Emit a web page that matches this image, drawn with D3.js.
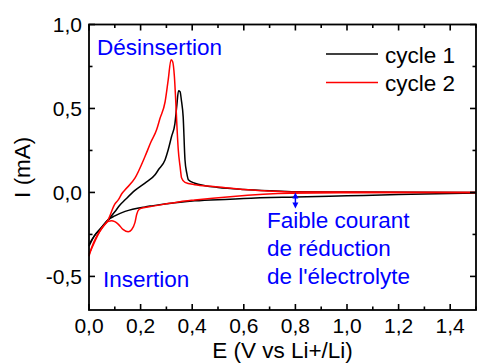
<!DOCTYPE html>
<html><head><meta charset="utf-8">
<script src="https://cdn.jsdelivr.net/npm/d3@7"></script>
<style>body{margin:0;background:#fff}svg{display:block}text{font-family:"Liberation Sans",Arial,sans-serif}</style>
</head><body>
<svg id="c" width="478" height="363"></svg>
<script>
// ---- data (E in V vs Li+/Li, I in mA) ----
const cycle1CathE = [0.0, 0.02, 0.045, 0.074, 0.1, 0.14, 0.217, 0.243, 0.3, 0.353, 0.41, 0.547, 0.6, 0.8, 1.0, 1.2, 1.5];
const cycle1CathI = [-0.32, -0.26, -0.215, -0.163, -0.14, -0.113, -0.086, -0.08, -0.068, -0.058, -0.05, -0.04, -0.036, -0.027, -0.02, -0.013, -0.004];
const cycle1AnodE = [0.0, 0.02, 0.045, 0.074, 0.1, 0.12, 0.14, 0.178, 0.217, 0.256, 0.269, 0.295, 0.307, 0.32, 0.333, 0.34, 0.347, 0.353, 0.358, 0.365, 0.372, 0.379, 0.385, 0.41, 0.45, 0.5, 0.6, 0.7, 0.8, 1.0, 1.5];
const cycle1AnodI = [-0.31, -0.26, -0.215, -0.163, -0.115, -0.075, -0.044, 0.012, 0.056, 0.105, 0.135, 0.195, 0.254, 0.333, 0.41, 0.512, 0.605, 0.6, 0.55, 0.45, 0.195, 0.115, 0.076, 0.055, 0.04, 0.03, 0.018, 0.01, 0.004, 0.002, 0.0];
const cycle2CathE = [0.0, 0.01, 0.03, 0.049, 0.062, 0.075, 0.088, 0.1, 0.114, 0.133, 0.152, 0.165, 0.178, 0.185, 0.195, 0.215, 0.243, 0.3, 0.353, 0.41, 0.547, 0.78, 1.0, 1.5];
const cycle2CathI = [-0.38, -0.33, -0.26, -0.215, -0.19, -0.172, -0.168, -0.174, -0.19, -0.222, -0.234, -0.222, -0.18, -0.13, -0.1, -0.09, -0.083, -0.068, -0.055, -0.045, -0.025, -0.005, -0.002, 0.0];
const cycle2AnodE = [0.0, 0.02, 0.045, 0.074, 0.1, 0.114, 0.127, 0.14, 0.178, 0.217, 0.24, 0.262, 0.275, 0.295, 0.307, 0.318, 0.324, 0.331, 0.336, 0.341, 0.346, 0.353, 0.359, 0.372, 0.41, 0.482, 0.6, 0.7, 0.78, 1.0, 1.5];
const cycle2AnodI = [-0.37, -0.3, -0.225, -0.163, -0.07, -0.043, -0.008, 0.016, 0.085, 0.214, 0.3, 0.373, 0.44, 0.54, 0.67, 0.79, 0.78, 0.69, 0.55, 0.39, 0.254, 0.155, 0.086, 0.06, 0.046, 0.036, 0.018, 0.009, 0.003, 0.002, 0.0];

const seriesNames = ["cycle 1", "cycle 2"];
const seriesColors = ["#000000", "#ff0000"];

const xMajorTicks = [0.0, 0.2, 0.4, 0.6, 0.8, 1.0, 1.2, 1.4];
const xMinorTicks = [0.1, 0.3, 0.5, 0.7, 0.9, 1.1, 1.3, 1.5];
const yMajorTicks = [-0.5, 0.0, 0.5, 1.0];
const yMinorTicks = [-0.25, 0.25, 0.75];
const arrowE = 0.8, arrowI = [0.0, -0.095];

// ---- layout ----
const svg = d3.select("#c");
const L = 89, R = 476, T = 24.5, B = 310;
const x = d3.scaleLinear().domain([0, 1.5]).range([L, R]);
const y = d3.scaleLinear().domain([-0.7, 1.0]).range([B, T]);
const fmt = v => d3.format(".1f")(v).replace(".", ",").replace("−", "-");
const FS = 22.5;

const line = d3.line().x(d => x(d[0])).y(d => y(d[1])).curve(d3.curveMonotoneX);
const zip = (a, b) => a.map((v, i) => [v, b[i]]);

const g = svg.append("g");
const branches = [
  [cycle1CathE, cycle1CathI, 0], [cycle1AnodE, cycle1AnodI, 0],
  [cycle2CathE, cycle2CathI, 1], [cycle2AnodE, cycle2AnodI, 1]
];
branches.forEach(([e, i, s]) => {
  g.append("path").attr("d", line(zip(e, i))).attr("fill", "none")
    .attr("stroke", seriesColors[s]).attr("stroke-width", 1.5).attr("stroke-linejoin", "round");
});

// axes (ticks inward on all sides)
const ax = svg.append("g").attr("font-size", 21).attr("fill", "#000");
function tk(x1, y1, x2, y2) { ax.append("line").attr("x1", x1).attr("y1", y1).attr("x2", x2).attr("y2", y2).attr("stroke", "#000").attr("stroke-width", 1.6); }
xMajorTicks.forEach(v => { tk(x(v), B, x(v), B - 6); tk(x(v), T, x(v), T + 6); });
xMinorTicks.forEach(v => { tk(x(v), B, x(v), B - 3.5); tk(x(v), T, x(v), T + 3.5); });
yMajorTicks.forEach(v => { tk(L, y(v), L + 6, y(v)); tk(R, y(v), R - 6, y(v)); });
yMinorTicks.forEach(v => { tk(L, y(v), L + 3.5, y(v)); tk(R, y(v), R - 3.5, y(v)); });
svg.append("rect").attr("x", L).attr("y", T).attr("width", R - L).attr("height", B - T)
  .attr("fill", "none").attr("stroke", "#000").attr("stroke-width", 1.8);

xMajorTicks.forEach(v => ax.append("text").attr("x", x(v)).attr("y", 333).attr("text-anchor", "middle").text(fmt(v)));
yMajorTicks.forEach(v => ax.append("text").attr("x", 82).attr("y", y(v) + 7.5).attr("text-anchor", "end").text(fmt(v)));

svg.append("text").attr("x", (L + R) / 2).attr("y", 358).attr("text-anchor", "middle").attr("font-size", FS).text("E (V vs Li+/Li)");
svg.append("text").attr("transform", `translate(30,${(T + B) / 2}) rotate(-90)`).attr("text-anchor", "middle").attr("font-size", FS).text("I (mA)");

// legend
seriesNames.forEach((n, k) => {
  const yy = 54 + k * 28.5;
  svg.append("line").attr("x1", 326).attr("x2", 378).attr("y1", yy).attr("y2", yy).attr("stroke", seriesColors[k]).attr("stroke-width", 1.5);
  svg.append("text").attr("x", 385).attr("y", yy + 8.5).attr("font-size", FS).text(n);
});

// annotations
const blue = "#0000ff";
const ann = svg.append("g").attr("fill", blue).attr("font-size", FS);
ann.append("text").attr("x", 97).attr("y", 55).text("Désinsertion");
ann.append("text").attr("x", 103).attr("y", 287).text("Insertion");
["Faible courant", "de réduction", "de l'électrolyte"].forEach((t, k) =>
  ann.append("text").attr("x", 267).attr("y", 228 + k * 28).text(t));

const ax0 = x(arrowE), ay0 = y(arrowI[0]), ay1 = y(arrowI[1]);
svg.append("line").attr("x1", ax0).attr("x2", ax0).attr("y1", ay0 + 4).attr("y2", ay1 - 4).attr("stroke", blue).attr("stroke-width", 1.5);
svg.append("path").attr("d", `M${ax0},${ay0} l-3,6 l6,0 z`).attr("fill", blue);
svg.append("path").attr("d", `M${ax0},${ay1} l-3,-6 l6,0 z`).attr("fill", blue);
</script>
</body></html>
